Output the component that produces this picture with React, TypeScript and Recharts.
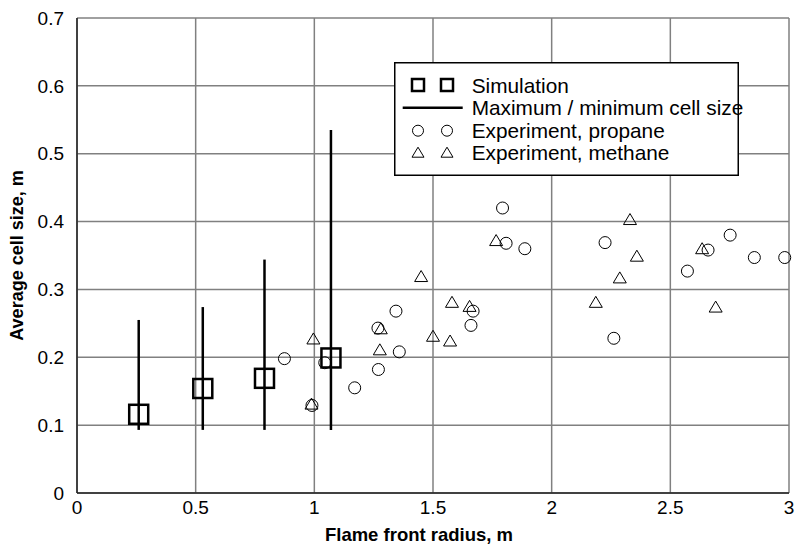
import { CartesianGrid, ErrorBar, Legend, Scatter, ScatterChart, XAxis, YAxis } from 'recharts';

// simulation: average cell size with min / max range
const simRadius = [0.26, 0.53, 0.79, 1.07];
const simSize = [0.116, 0.154, 0.169, 0.199];
const simMin = [0.093, 0.093, 0.093, 0.093];
const simMax = [0.255, 0.274, 0.344, 0.535];

const propaneRadius = [0.874, 1.044, 0.99, 1.17, 1.268, 1.27, 1.344, 1.358, 1.66, 1.669, 1.793, 1.808, 1.887, 2.225, 2.262, 2.572, 2.659, 2.752, 2.854, 2.982];
const propaneSize = [0.198, 0.192, 0.129, 0.155, 0.243, 0.182, 0.268, 0.208, 0.247, 0.268, 0.42, 0.368, 0.36, 0.369, 0.228, 0.327, 0.358, 0.38, 0.347, 0.347];

const methaneRadius = [0.996, 0.988, 1.276, 1.28, 1.45, 1.5, 1.572, 1.58, 1.654, 1.766, 2.186, 2.287, 2.33, 2.359, 2.634, 2.691];
const methaneSize = [0.227, 0.131, 0.211, 0.242, 0.319, 0.231, 0.224, 0.281, 0.275, 0.372, 0.281, 0.317, 0.403, 0.349, 0.36, 0.274];

const xTicks = [0, 0.5, 1, 1.5, 2, 2.5, 3];
const yTicks = [0, 0.1, 0.2, 0.3, 0.4, 0.5, 0.6, 0.7];

const legendLabels = ['Simulation', 'Maximum / minimum cell size', 'Experiment, propane', 'Experiment, methane'];

const FONT = '"Liberation Sans", Arial, sans-serif';

const simData = simRadius.map((x, i) => ({
    x,
    y: simSize[i],
    err: [simSize[i] - simMin[i], simMax[i] - simSize[i]],
}));
const propaneData = propaneRadius.map((x, i) => ({x, y: propaneSize[i]}));
const methaneData = methaneRadius.map((x, i) => ({x, y: methaneSize[i]}));

type ShapeProps = { cx?: number; cy?: number };

const SquareShape = ({cx = 0, cy = 0}: ShapeProps) => (
    <rect x={cx - 9.5} y={cy - 9.5} width={19} height={19} fill={'none'} stroke={'#000'} strokeWidth={2.5} />
);

const CircleShape = ({cx = 0, cy = 0}: ShapeProps) => (
    <circle cx={cx} cy={cy} r={6} fill={'none'} stroke={'#000'} strokeWidth={1} />
);

const TriangleShape = ({cx = 0, cy = 0}: ShapeProps) => (
    <path d={`M${cx},${cy - 6}L${cx + 6.5},${cy + 5}L${cx - 6.5},${cy + 5}Z`} fill={'none'} stroke={'#000'} strokeWidth={1} />
);

const LegendBox = () => {
    const rows = [23, 45.7, 68.7, 90.7];
    const sx = [24, 53];
    return (
        <svg width={345} height={114} style={{overflow: 'visible', display: 'block'}}>
            <rect x={0.75} y={0.75} width={343.5} height={112.5} fill={'#fff'} stroke={'#000'} strokeWidth={1.5} />
            {sx.map(x => (
                <rect key={'s' + x} x={x - 6} y={rows[0] - 6} width={12} height={12} fill={'none'} stroke={'#000'} strokeWidth={2.5} />
            ))}
            <line x1={8.7} x2={68.7} y1={rows[1]} y2={rows[1]} stroke={'#000'} strokeWidth={2.5} />
            {sx.map(x => (
                <circle key={'c' + x} cx={x} cy={rows[2]} r={5.5} fill={'none'} stroke={'#000'} strokeWidth={1} />
            ))}
            {sx.map(x => (
                <path key={'t' + x} d={`M${x},${rows[3] - 5.5}L${x + 6},${rows[3] + 4.5}L${x - 6},${rows[3] + 4.5}Z`} fill={'none'} stroke={'#000'} strokeWidth={1} />
            ))}
            {legendLabels.map((label, i) => (
                <text key={label} x={77.7} y={rows[i]} dominantBaseline={'central'} fontSize={20.8} fontFamily={FONT} fill={'#000'}>
                    {label}
                </text>
            ))}
        </svg>
    );
};

export default function App() {
    return (
        <div style={{position: 'absolute', left: 0, top: 0, background: '#fff'}}>
            <ScatterChart
                width={796}
                height={546}
                margin={{top: 18, right: 7, bottom: 0, left: 0}}
                style={{fontFamily: FONT}}
            >
                <CartesianGrid stroke={'#808080'} strokeWidth={1.5} />
                <XAxis
                    type={'number'}
                    dataKey={'x'}
                    domain={[0, 3]}
                    ticks={xTicks}
                    height={53}
                    tickLine={false}
                    axisLine={{stroke: '#222', strokeWidth: 1.5}}
                    tick={{fontSize: 19, fill: '#000'}}
                    tickMargin={2}
                    label={{
                        value: 'Flame front radius, m',
                        position: 'insideBottom',
                        offset: 5,
                        dx: -14,
                        style: {fontSize: 18.5, fontWeight: 'bold', fill: '#000'},
                    }}
                />
                <YAxis
                    type={'number'}
                    dataKey={'y'}
                    domain={[0, 0.7]}
                    ticks={yTicks}
                    width={77}
                    tickLine={false}
                    axisLine={{stroke: '#222', strokeWidth: 1.5}}
                    tick={{fontSize: 19, fill: '#000'}}
                    tickMargin={7}
                    label={{
                        value: 'Average cell size, m',
                        angle: -90,
                        position: 'insideLeft',
                        offset: 17,
                        style: {fontSize: 18, fontWeight: 'bold', fill: '#000', textAnchor: 'middle'},
                    }}
                />
                <Scatter data={propaneData} shape={CircleShape} isAnimationActive={false} />
                <Scatter data={methaneData} shape={TriangleShape} isAnimationActive={false} />
                <Scatter data={simData} shape={SquareShape} isAnimationActive={false}>
                    <ErrorBar dataKey={'err'} direction={'y'} width={0} stroke={'#000'} strokeWidth={2.5} />
                </Scatter>
                <Legend
                    layout={'vertical'}
                    align={'center'}
                    verticalAlign={'middle'}
                    content={<LegendBox />}
                    wrapperStyle={{left: 394, top: 62, width: 345, height: 114}}
                />
            </ScatterChart>
        </div>
    );
}
